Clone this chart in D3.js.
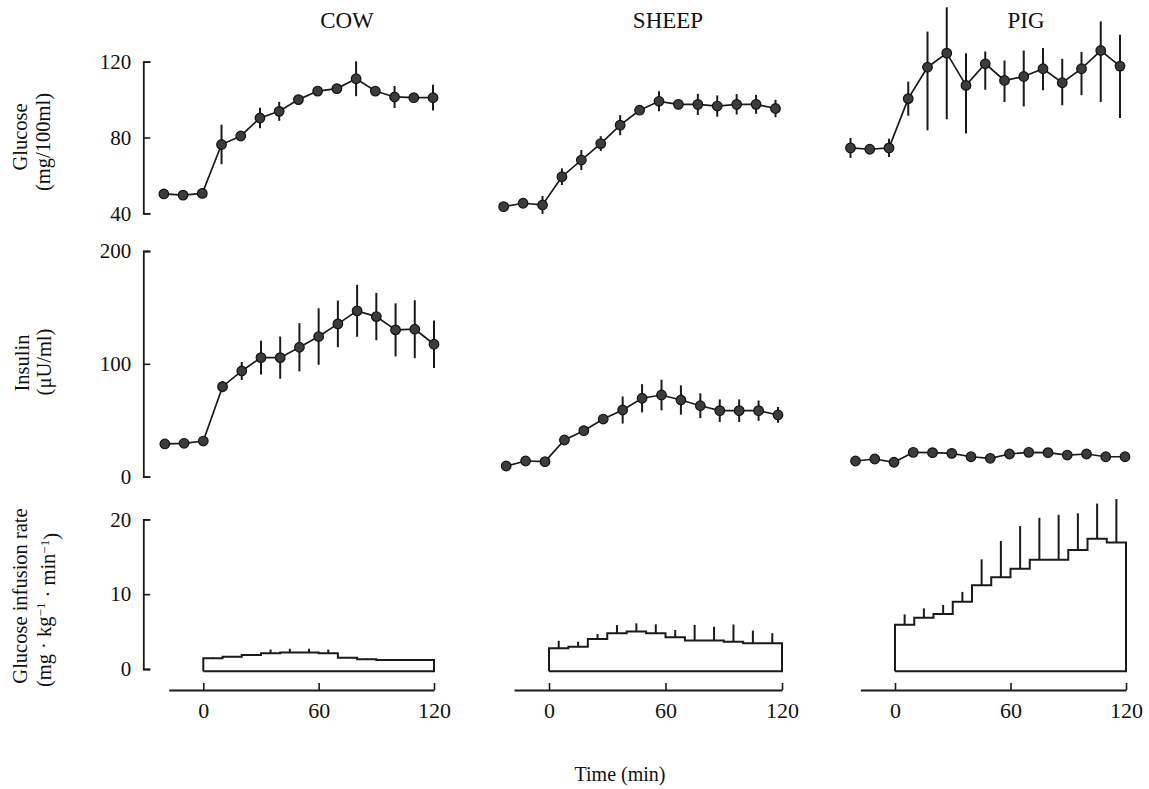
<!DOCTYPE html>
<html><head><meta charset="utf-8">
<script src="https://cdn.jsdelivr.net/npm/d3@7"></script>
<style>
html,body{margin:0;padding:0;background:#fff;}
text{font-family:"Liberation Serif","Times New Roman",serif;fill:#111;}
</style></head>
<body><svg id="c" width="1149" height="789"></svg>
<script>
// ---------- data ----------
const species = ["COW", "SHEEP", "PIG"];
const times = [-20, -10, 0, 10, 20, 30, 40, 50, 60, 70, 80, 90, 100, 110, 120];

const cowGlucose   = [50.2, 49.6, 50.5, 76.3, 80.8, 90.3, 93.8, 100, 104.5, 105.8, 111, 104.5, 101.4, 101, 101];
const cowGlucoseSE = [1, 1, 1, 10.4, 2, 5.4, 5, 2, 2, 2, 9.2, 2, 5.8, 2, 6.8];
const sheepGlucose   = [43.5, 45.3, 44.4, 59.3, 68.1, 76.8, 86.5, 94.4, 99.1, 97.5, 97.5, 96.6, 97.5, 97.5, 95.3];
const sheepGlucoseSE = [1, 1, 4.7, 4.4, 5.3, 3.9, 5.3, 2, 5.3, 2, 5.6, 5.6, 5.4, 5, 4.6];
const pigGlucose       = [74.5, 73.8, 74.5, 100.5, 117.1, 124.5, 107.5, 118.9, 110.1, 112.2, 116.3, 108.9, 116.3, 125.9, 117.7];
const pigGlucoseSEUp   = [5.3, 1, 4.8, 9, 18.8, 24.2, 17, 6.5, 10.5, 13.7, 10.9, 12.6, 8.8, 15.4, 16.5];
const pigGlucoseSEDown = [5.3, 1, 4.8, 9, 33.3, 34.9, 25.4, 13.7, 11.4, 15.8, 11.4, 11.9, 14, 27.2, 27.4];

const cowInsulin   = [29, 29.6, 31.6, 79.8, 93.7, 105.5, 105.5, 114.7, 124.2, 135.4, 147, 141.9, 130.1, 130.7, 117.4];
const cowInsulinSE = [1, 1, 1, 5, 8, 15, 18.7, 21.4, 25, 20.7, 23, 21, 23.5, 25.7, 21];
const sheepInsulin   = [9.5, 13.9, 13.3, 32.5, 40.8, 51.1, 59.1, 69.5, 72.4, 68, 62.9, 58.5, 58.5, 58.5, 54.7];
const sheepInsulinSE = [1, 1, 1, 1, 1, 4, 12, 12.5, 13.6, 13, 11, 10, 10, 9, 7];
const pigInsulin   = [13.9, 15.7, 12.8, 21.6, 21.3, 20.7, 17.7, 16.3, 20.1, 21.6, 21.3, 19.2, 20.1, 17.7, 17.7];
const pigInsulinSE = [1, 1, 1, 1, 1, 1, 1, 1, 1, 1, 1, 1, 1, 1, 1];

const intervalStarts = [0, 10, 20, 30, 40, 50, 60, 70, 80, 90, 100, 110];
const cowRate     = [1.43, 1.65, 1.87, 2.1, 2.2, 2.2, 2.1, 1.5, 1.3, 1.2, 1.2, 1.2];
const cowRateSE   = [0.1, 0.1, 0.1, 0.5, 0.5, 0.5, 0.5, 0.1, 0.1, 0.1, 0.1, 0.1];
const sheepRate   = [2.77, 2.98, 4.0, 4.77, 5.0, 4.77, 4.23, 3.8, 3.8, 3.65, 3.43, 3.43];
const sheepRateSE = [1.0, 0.67, 0.68, 1.1, 1.1, 1.2, 0.97, 2.1, 1.85, 2.3, 1.7, 1.35];
const pigRate     = [5.9, 6.85, 7.35, 9.0, 11.2, 12.25, 13.4, 14.6, 14.6, 15.9, 17.4, 16.9];
const pigRateSE   = [1.4, 1.25, 1.2, 1.3, 3.45, 4.85, 5.7, 5.6, 6.0, 4.9, 4.7, 5.8];
const rateBase = -0.3;

const glucoseTicks = [40, 80, 120];
const insulinTicks = [0, 100, 200];
const rateTicks = [0, 10, 20];
const timeTicks = [0, 60, 120];

// ---------- layout ----------
const svg = d3.select("#c");
const xRanges = [[203.3, 434], [549, 782], [895, 1126]];
const rowShift = [[-1, -6.5, -6], [0, -4, -1], [0, 0, 0]];
const xScales = xRanges.map(r => d3.scaleLinear().domain([0, 120]).range(r));
const yGlu = d3.scaleLinear().domain([40, 120]).range([213.3, 61.7]);
const yIns = d3.scaleLinear().domain([0, 200]).range([476.7, 251]);
const yRate = d3.scaleLinear().domain([0, 20]).range([669, 519.3]);
const axisX = 143.3;

const glucoseSets = [
  {v: cowGlucose, up: cowGlucoseSE, dn: cowGlucoseSE},
  {v: sheepGlucose, up: sheepGlucoseSE, dn: sheepGlucoseSE},
  {v: pigGlucose, up: pigGlucoseSEUp, dn: pigGlucoseSEDown}
];
const insulinSets = [
  {v: cowInsulin, up: cowInsulinSE, dn: cowInsulinSE},
  {v: sheepInsulin, up: sheepInsulinSE, dn: sheepInsulinSE},
  {v: pigInsulin, up: pigInsulinSE, dn: pigInsulinSE}
];
const rateSets = [
  {v: cowRate, se: cowRateSE},
  {v: sheepRate, se: sheepRateSE},
  {v: pigRate, se: pigRateSE}
];

// titles
const titleX = [347, 668, 1026];
species.forEach((s, i) => {
  svg.append("text").attr("x", titleX[i]).attr("y", 28).attr("text-anchor", "middle")
    .attr("font-size", 23).text(s);
});

// point series panels
function drawSeries(set, x, y, shift) {
  const g = svg.append("g").attr("transform", `translate(${shift},0)`);
  const pts = times.map((t, i) => ({t, v: set.v[i], up: set.up[i], dn: set.dn[i]}));
  g.selectAll("line.err").data(pts).enter().append("line")
    .attr("x1", d => x(d.t)).attr("x2", d => x(d.t))
    .attr("y1", d => y(d.v + d.up)).attr("y2", d => y(d.v - d.dn))
    .attr("stroke", "#1a1a1a").attr("stroke-width", 2);
  g.append("path").datum(pts)
    .attr("d", d3.line().x(d => x(d.t)).y(d => y(d.v)))
    .attr("fill", "none").attr("stroke", "#1a1a1a").attr("stroke-width", 1.7);
  g.selectAll("circle").data(pts).enter().append("circle")
    .attr("cx", d => x(d.t)).attr("cy", d => y(d.v)).attr("r", 4.8)
    .attr("fill", "#3c3c3c").attr("stroke", "#111").attr("stroke-width", 1.2);
}
glucoseSets.forEach((s, i) => drawSeries(s, xScales[i], yGlu, rowShift[0][i]));
insulinSets.forEach((s, i) => drawSeries(s, xScales[i], yIns, rowShift[1][i]));

// infusion step panels
rateSets.forEach((s, i) => {
  const x = xScales[i];
  const g = svg.append("g");
  const steps = intervalStarts.map((t, k) => ({t, v: s.v[k]}));
  steps.push({t: 120, v: s.v[s.v.length - 1]});
  const outline = [{t: 0, v: rateBase}].concat(steps).concat([{t: 120, v: rateBase}, {t: 0, v: rateBase}]);
  const step = d3.line().x(d => x(d.t)).y(d => yRate(d.v)).curve(d3.curveStepAfter);
  g.append("path").attr("d", step(outline))
    .attr("fill", "#fff").attr("stroke", "#1a1a1a").attr("stroke-width", 2);
  g.selectAll("line").data(intervalStarts.map((t, k) => ({t: t + 5, v: s.v[k], se: s.se[k]})))
    .enter().append("line")
    .attr("x1", d => x(d.t)).attr("x2", d => x(d.t))
    .attr("y1", d => yRate(d.v)).attr("y2", d => yRate(d.v + d.se))
    .attr("stroke", "#1a1a1a").attr("stroke-width", 2);
  // time axis
  const xa = d3.scaleLinear().domain([-18, 120]).range([x(-18), x(120)]);
  const ax = svg.append("g").attr("transform", "translate(0,690)")
    .call(d3.axisBottom(xa).tickValues(timeTicks).tickSize(-7).tickSizeOuter(0).tickPadding(12));
  ax.select(".domain").attr("stroke", "#1a1a1a").attr("stroke-width", 1.8);
  ax.selectAll(".tick line").attr("stroke", "#1a1a1a").attr("stroke-width", 1.6);
  ax.selectAll("text").attr("font-size", 22).attr("font-family", "Liberation Serif").attr("fill", "#111");
});

// y axes (left column only)
function yAxis(scale, ticks) {
  const ax = svg.append("g").attr("transform", `translate(${axisX},0)`)
    .call(d3.axisLeft(scale).tickValues(ticks).tickSize(-7).tickSizeOuter(-7).tickPadding(12));
  ax.select(".domain").attr("stroke", "#1a1a1a").attr("stroke-width", 1.8);
  ax.selectAll(".tick line").attr("stroke", "#1a1a1a").attr("stroke-width", 1.6);
  ax.selectAll("text").attr("font-size", 21).attr("font-family", "Liberation Serif").attr("fill", "#111");
}
yAxis(yGlu, glucoseTicks);
yAxis(yIns, insulinTicks);
yAxis(yRate, rateTicks);

// y labels
function yLabel(cx, cy, txt) {
  svg.append("text").attr("transform", `translate(${cx},${cy}) rotate(-90)`)
    .attr("text-anchor", "middle").attr("dy", "0.35em").attr("font-size", 20.5).text(txt);
}
yLabel(20, 137, "Glucose");
yLabel(43, 142, "(mg/100ml)");
yLabel(22, 363, "Insulin");
yLabel(44, 362, "(\u03bcU/ml)");
yLabel(20, 596, "Glucose infusion rate");
const t2 = svg.append("text").attr("transform", "translate(44,610) rotate(-90)")
  .attr("text-anchor", "middle").attr("dy", "0.35em").attr("font-size", 20.5);
t2.append("tspan").text("(mg \u00b7 kg");
t2.append("tspan").attr("dy", "-0.45em").attr("font-size", 13).text("\u22121");
t2.append("tspan").attr("dy", "0.45em").text(" \u00b7 min");
t2.append("tspan").attr("dy", "-0.45em").attr("font-size", 13).text("\u22121");
t2.append("tspan").attr("dy", "0.45em").text(")");

// x label
svg.append("text").attr("x", 620).attr("y", 781).attr("text-anchor", "middle")
  .attr("font-size", 20).text("Time (min)");
</script></body></html>
